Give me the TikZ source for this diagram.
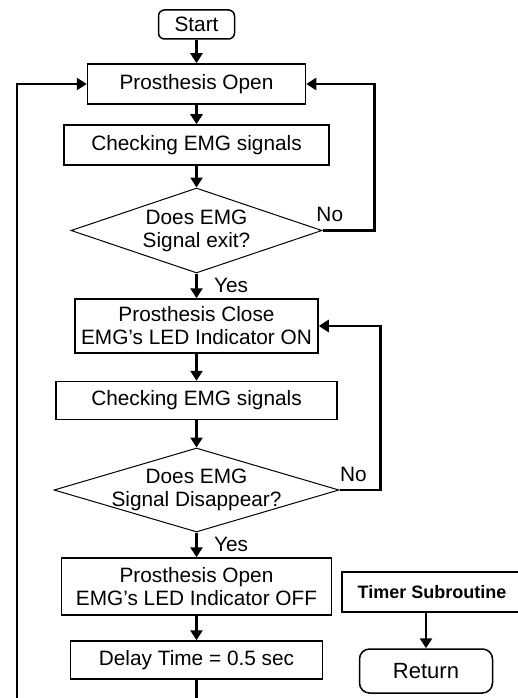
\documentclass[tikz,border=0pt]{standalone}
\usepackage{fontspec}
\setmainfont{Liberation Sans}
\usetikzlibrary{shapes.geometric, arrows.meta, positioning}

\tikzset{
  block/.style = {draw, rectangle, line width=1.5pt, inner sep=2pt, align=center,
                  font=\fontsize{20.8}{23}\selectfont},
  terminal/.style = {block, rounded corners=6pt},
  decision/.style = {draw, diamond, line width=1pt, inner sep=0pt},
  tag/.style = {font=\fontsize{20.8}{23}\selectfont},
  flow/.style = {-{Triangle[length=10pt, width=12pt]}, line width=2.5pt}
}

\begin{document}
\begin{tikzpicture} [x=1pt, y=1pt, node distance = 60pt, on grid, auto]
\useasboundingbox (0,0) rectangle (518,-698);

% main loop
\node (start) [terminal, minimum width=76pt, minimum height=29pt] at (196.5,-24.5) {Start};
\node (open) [block, below = 59.5pt of start, minimum width=218pt, minimum height=40pt] {Prosthesis Open};
\node (check1) [block, below = 61pt of open, minimum width=265pt, minimum height=40pt] {Checking EMG signals};
\node (test1) [decision, below = 85.5pt of check1, minimum width=251pt, minimum height=85pt,
               label={[tag, align=center]center:Does EMG\\Signal exit?}] {};
\node (close) [block, below = 95.5pt of test1, minimum width=243pt, minimum height=54pt] {Prosthesis Close\\EMG's LED Indicator ON};
\node (check2) [block, below = 74.5pt of close, minimum width=281pt, minimum height=38pt] {Checking EMG signals};
\node (test2) [decision, below = 89.5pt of check2, minimum width=285pt, minimum height=84pt,
               label={[tag, align=center]center:Does EMG\\Signal Disappear?}] {};
\node (release) [block, below = 96.5pt of test2, minimum width=270pt, minimum height=57pt] {Prosthesis Open\\EMG's LED Indicator OFF};
\node (delay) [block, below = 73.5pt of release, minimum width=252pt, minimum height=38pt] {Delay Time = 0.5 sec};

% timer subroutine
\node (timer) [block, font=\fontsize{18}{20}\selectfont\bfseries, minimum width=180pt, minimum height=40pt] at (432,-592) {Timer Subroutine};
\node (ret) [terminal, rounded corners=10pt, font=\fontsize{22}{24}\selectfont, minimum width=133pt, minimum height=44pt] at (426,-671) {Return};

\coordinate (back) at (17,-720);

\path [flow]
    (start) edge (open);
\path [flow]
    (open) edge (check1);
\path [flow]
    (check1) edge (test1);
\path [flow]
    (test1) edge node [tag, xshift=13pt] {Yes} (close);
\path [flow]
    (close) edge (check2);
\path [flow]
    (check2) edge (test2);
\path [flow]
    (test2) edge node [tag, xshift=13pt] {Yes} (release);
\path [flow]
    (release) edge (delay);

\draw [flow] (test1.east) -- node [tag, pos=0.14, above, yshift=4pt] {No} ++(52,0) |- (open.east);
\draw [flow] (test2.east) -- node [tag, pos=0.34, above, yshift=4pt] {No} ++(41,0) |- (close.east);
\draw [flow] (delay.south) |- (back) |- (open.west);

\draw [flow] (timer.south -| ret.north) -- (ret.north);
\end{tikzpicture}
\end{document}
